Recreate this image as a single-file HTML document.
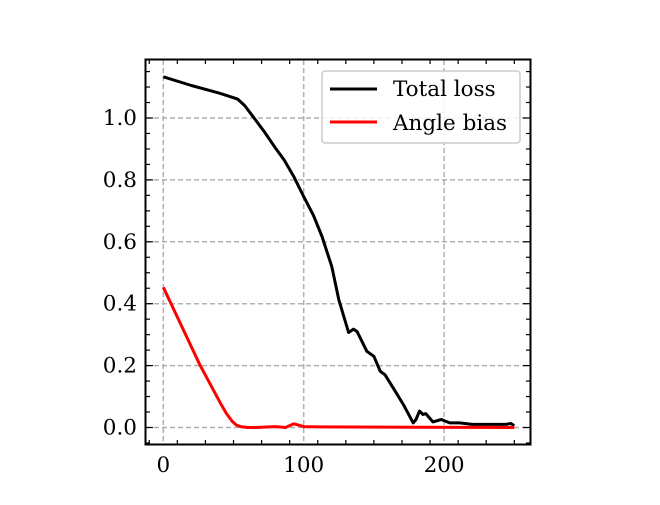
<!DOCTYPE html>
<html><head><meta charset="utf-8"><style>
body{margin:0;background:#fff;}
svg text{font-family:"DejaVu Serif","Liberation Serif",serif;font-size:21.5px;fill:#000;}
</style></head><body>
<svg id="chart" width="660" height="500" xmlns="http://www.w3.org/2000/svg">
<g id="grid"></g>
<g id="ticks"></g>
<g id="series"></g>
<rect x="145.5" y="59.5" width="385" height="385" fill="none" stroke="#000" stroke-width="2"/>
<g>
<rect x="322" y="71" width="198" height="72" rx="3" fill="#fff" fill-opacity="0.85" stroke="#ccc" stroke-width="1.5"/>
<line x1="330" y1="89" x2="377" y2="89" stroke="#000" stroke-width="3"/>
<text x="393" y="96">Total loss</text>
<line x1="330" y1="122" x2="377" y2="122" stroke="#f00" stroke-width="3"/>
<text x="393" y="130">Angle bias</text>
</g>
</svg>
<script>
const totalX=[0,20,40,53,58,64,72,80,86,93,100,107,113,120,125,132,135.5,138,145,150,154.5,158,163,171,178,180,182.5,185,187,192,198,204,211,220,244,247.5,250];
const totalY=[1.133,1.105,1.08,1.061,1.04,1.004,0.955,0.902,0.865,0.81,0.746,0.685,0.617,0.52,0.413,0.307,0.318,0.31,0.246,0.23,0.182,0.17,0.133,0.074,0.015,0.026,0.053,0.042,0.045,0.018,0.026,0.015,0.015,0.01,0.01,0.013,0.006];
const angleX=[0,12,26,40.5,45,49,52,55,60,65,80,87,93,100,110,250];
const angleY=[0.453,0.338,0.203,0.08,0.045,0.02,0.008,0.003,0.0,0.0,0.003,0.0,0.012,0.003,0.002,0.0];
const xTicks=[0,100,200];
const yTicks=[0.0,0.2,0.4,0.6,0.8,1.0];
const sx=v=>163.3+1.404*v, sy=v=>427.5-309.5*v;
const NS="http://www.w3.org/2000/svg";
function mk(t,a,p){const e=document.createElementNS(NS,t);for(const k in a)e.setAttribute(k,a[k]);p.appendChild(e);return e;}
const grid=document.getElementById('grid'),ticks=document.getElementById('ticks'),series=document.getElementById('series');
xTicks.forEach(v=>{const x=sx(v);
 const g=mk('line',{x1:x,x2:x,y1:60,y2:444,stroke:'#b0b0b0','stroke-width':1.5,'stroke-dasharray':'5,3'},grid);
 
 
 const t=mk('text',{x:x,y:472,'text-anchor':'middle'},ticks);t.textContent=v;
 
 });
yTicks.forEach(v=>{const y=sy(v);
 const g=mk('line',{x1:146,x2:530,y1:y,y2:y,stroke:'#b0b0b0','stroke-width':1.5,'stroke-dasharray':'5,3'},grid);
 
 
 const t=mk('text',{x:137,y:y+7,'text-anchor':'end'},ticks);t.textContent=v.toFixed(1);
 
 });
for(let v=-10;v<=260;v+=20){const x=sx(v);if(x<146||x>530)continue;const maj=v%100===0,L=maj?7:4;
 mk('line',{x1:x,x2:x,y1:444,y2:444-L,stroke:'#000','stroke-width':1.2},ticks);
 mk('line',{x1:x,x2:x,y1:60,y2:60+L,stroke:'#000','stroke-width':1.2},ticks);}
for(let i=-1;i<=23;i++){const v=i*0.05,y=sy(v);if(y<60||y>444)continue;const maj=i%4===0,L=maj?7:4;
 mk('line',{x1:146,x2:146+L,y1:y,y2:y,stroke:'#000','stroke-width':1.2},ticks);
 mk('line',{x1:530,x2:530-L,y1:y,y2:y,stroke:'#000','stroke-width':1.2},ticks);}
function line(xs,ys,c,n){const d=xs.map((x,i)=>(i?'L':'M')+sx(x).toFixed(1)+','+sy(ys[i]).toFixed(1)).join('');
 const p=mk('path',{d:d,fill:'none',stroke:c,'stroke-width':3,'stroke-linejoin':'round'},series);
 
 }
line(totalX,totalY,'#000','total-loss-line');
line(angleX,angleY,'#f00','angle-bias-line');
</script>
</body></html>
